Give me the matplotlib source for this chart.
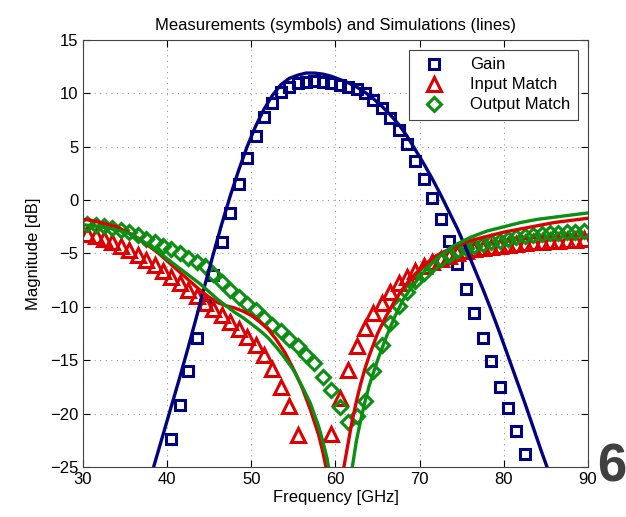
import matplotlib
matplotlib.use('Agg')
import matplotlib.pyplot as plt
import numpy as np

plt.rcParams['font.family'] = ['Liberation Sans', 'DejaVu Sans']

# measured gain (squares), 40.5 .. 82.5 GHz
f_gain = np.arange(40.5, 83.0, 1.0)
gain_meas = [-22.4, -19.2, -16.0, -12.9, -9.8, -7.0, -3.9, -1.2, 1.5, 3.9,
             6.0, 7.8, 9.1, 10.1, 10.6, 11.0, 11.1, 11.2, 11.1, 11.0,
             10.8, 10.6, 10.4, 10.0, 9.4, 8.6, 7.7, 6.6, 5.3, 3.7,
             2.0, 0.2, -1.8, -3.8, -6.0, -8.3, -10.6, -12.9, -15.1, -17.5,
             -19.5, -21.6, -23.8]

# measured input / output match, 30.5 .. 89.5 GHz
f_match = np.arange(30.5, 90.0, 1.0)
s11_meas = [-3.2, -3.4, -3.6, -3.9, -4.3, -4.7, -5.1, -5.6, -6.1, -6.6,
            -7.2, -7.8, -8.4, -9.0, -9.6, -10.2, -10.8, -11.4, -12.1, -12.8,
            -13.6, -14.5, -15.8, -17.5, -19.3, -22.0, -27.0, -30.0, -27.0, -21.9,
            -18.5, -15.9, -13.7, -12.0, -10.6, -9.6, -8.6, -7.8, -7.2, -6.6,
            -6.2, -5.8, -5.5, -5.2, -5.0, -4.8, -4.6, -4.5, -4.4, -4.3,
            -4.2, -4.1, -4.0, -3.9, -3.9, -3.8, -3.8, -3.7, -3.7, -3.6]
s22_meas = [-2.2, -2.3, -2.4, -2.6, -2.8, -3.0, -3.3, -3.6, -3.9, -4.3,
            -4.6, -5.0, -5.4, -5.8, -6.2, -6.9, -7.7, -8.4, -9.1, -9.7,
            -10.3, -11.0, -11.7, -12.3, -13.0, -13.7, -14.5, -15.3, -16.6, -17.8,
            -19.4, -20.8, -20.2, -18.8, -16.0, -13.6, -11.5, -9.9, -8.6, -7.6,
            -6.8, -6.1, -5.5, -5.1, -4.8, -4.5, -4.3, -4.1, -3.9, -3.8,
            -3.6, -3.5, -3.4, -3.3, -3.2, -3.1, -3.1, -3.0, -3.0, -2.9]

# simulated gain
f_gain_sim = [37.5, 38.5, 39.5, 40.5, 41.5, 42.5, 43.5, 44.5, 45.5, 46.5,
              47.5, 48.5, 49.5, 50.5, 51.5, 52.5, 53.5, 54.5, 55.5, 56.5,
              57.5, 58.5, 59.5, 60.5, 61.5, 62.5, 63.5, 64.5, 65.5, 66.5,
              67.5, 68.5, 69.5, 70.5, 71.5, 72.5, 73.5, 74.5, 75.5, 76.5,
              77.5, 78.5, 79.5, 80.5, 81.5, 82.5, 83.5, 84.5, 85.5, 86.5]
gain_sim = [-27.5, -24.7, -22.0, -19.3, -16.6, -13.8, -10.9, -7.9, -5.0, -2.2,
            0.4, 2.8, 5.0, 6.9, 8.5, 9.8, 10.8, 11.4, 11.7, 11.9,
            11.9, 11.8, 11.6, 11.3, 11.0, 10.6, 10.1, 9.5, 8.8, 8.0,
            7.1, 6.0, 4.7, 3.4, 2.0, 0.5, -1.1, -2.7, -4.5, -6.4,
            -8.3, -10.3, -12.4, -14.6, -16.8, -19.0, -21.3, -23.6, -25.8, -28.0]

# simulated input match
f_s11_sim = [30, 31, 32, 33, 34, 35, 36, 37, 38, 39, 40, 41, 42, 43, 44, 45,
             46, 47, 48, 49, 50, 51, 52, 53, 54, 55, 56, 57, 58, 58.5, 59,
             59.5, 60.0, 60.5, 61.0, 61.5, 62, 62.5, 63, 63.5, 64, 65, 66,
             67, 68, 69, 70, 71, 72, 73, 74, 75, 76, 78, 80, 82, 84, 86, 88, 90]
s11_sim = [-1.8, -1.9, -2.1, -2.3, -2.5, -2.9, -3.3, -3.8, -4.4, -5.0, -5.7,
           -6.4, -7.1, -7.8, -8.5, -9.1, -9.6, -9.9, -10.1, -10.4, -10.8,
           -11.4, -12.1, -13.1, -14.3, -15.8, -17.5, -19.6, -22.0, -23.6, -25.5,
           -28.0, -40.0, -28.0, -25.0, -22.8, -20.6, -18.8, -17.2, -15.8, -14.6,
           -12.5, -10.9, -9.5, -8.3, -7.3, -6.5, -5.8, -5.2, -4.8, -4.4,
           -4.1, -3.8, -3.4, -3.0, -2.7, -2.4, -2.1, -1.9, -1.7]

# simulated output match
f_s22_sim = [30, 31, 32, 33, 34, 35, 36, 37, 38, 39, 40, 41, 42, 43, 44, 45,
             46, 47, 48, 49, 50, 51, 52, 53, 54, 55, 56, 57, 58, 58.5, 59,
             59.5, 60.5, 61.5, 62, 62.5, 63, 63.5, 64, 65, 66, 67, 68, 69,
             70, 71, 72, 73, 74, 75, 76, 78, 80, 82, 84, 86, 88, 90]
s22_sim = [-2.3, -2.4, -2.5, -2.6, -2.8, -3.0, -3.3, -3.8, -4.3, -4.9, -5.5,
           -6.1, -6.7, -7.3, -7.9, -8.6, -9.3, -9.9, -10.5, -11.0, -11.6,
           -12.2, -12.9, -13.8, -14.8, -15.9, -17.4, -19.0, -21.2, -22.6, -24.2,
           -26.5, -40.0, -28.0, -25.0, -22.5, -20.6, -18.9, -17.4, -15.0, -12.9,
           -11.0, -9.4, -8.2, -7.2, -6.3, -5.5, -4.9, -4.3, -3.9, -3.5,
           -2.9, -2.5, -2.1, -1.8, -1.6, -1.4, -1.2]

blue = '#000080'
red = '#dd0000'
green = '#0a9010'

fig = plt.figure(figsize=(6.26, 5.17), dpi=100)
ax = fig.add_axes([0.1326, 0.0967, 0.8066, 0.826])

ax.plot(f_gain, gain_meas, 's', mfc='none', mec=blue, mew=2.2, ms=7, label='Gain')
ax.plot(f_match, s11_meas, '^', mfc='none', mec=red, mew=2.2, ms=9.5, label='Input Match')
ax.plot(f_match, s22_meas, 'D', mfc='none', mec=green, mew=2.2, ms=7, label='Output Match')

ax.plot(f_gain_sim, gain_sim, '-', color=blue, lw=2.4)
ax.plot(f_s11_sim, s11_sim, '-', color=red, lw=2.4)
ax.plot(f_s22_sim, s22_sim, '-', color=green, lw=2.4)

ax.set_xlim(30, 90)
ax.set_ylim(-25, 15)
ax.set_xticks(np.arange(30, 91, 10))
ax.set_yticks(np.arange(-25, 16, 5))
ax.grid(True, linestyle=(0, (1, 4)), color='#999999', linewidth=0.8)
ax.tick_params(direction='in', labelsize=12, length=5, top=True, right=True)
for s in ax.spines.values():
    s.set_color('#444444')

ax.set_title('Measurements (symbols) and Simulations (lines)', fontsize=12, pad=7)
ax.set_xlabel('Frequency [GHz]', fontsize=12, labelpad=2)
ax.set_ylabel('Magnitude [dB]', fontsize=12, labelpad=6)

leg = ax.legend(loc='upper right', fontsize=12, fancybox=False, framealpha=1,
                edgecolor='#444444', borderaxespad=0.6, handletextpad=1.2,
                labelspacing=0.3, handlelength=2.0, borderpad=0.45)
leg.get_frame().set_linewidth(0.8)

fig.text(1.0, 0.095, '6', fontsize=38, fontweight='bold', color='#404040',
         ha='right', va='center')

fig.savefig('out.png', dpi=100)
